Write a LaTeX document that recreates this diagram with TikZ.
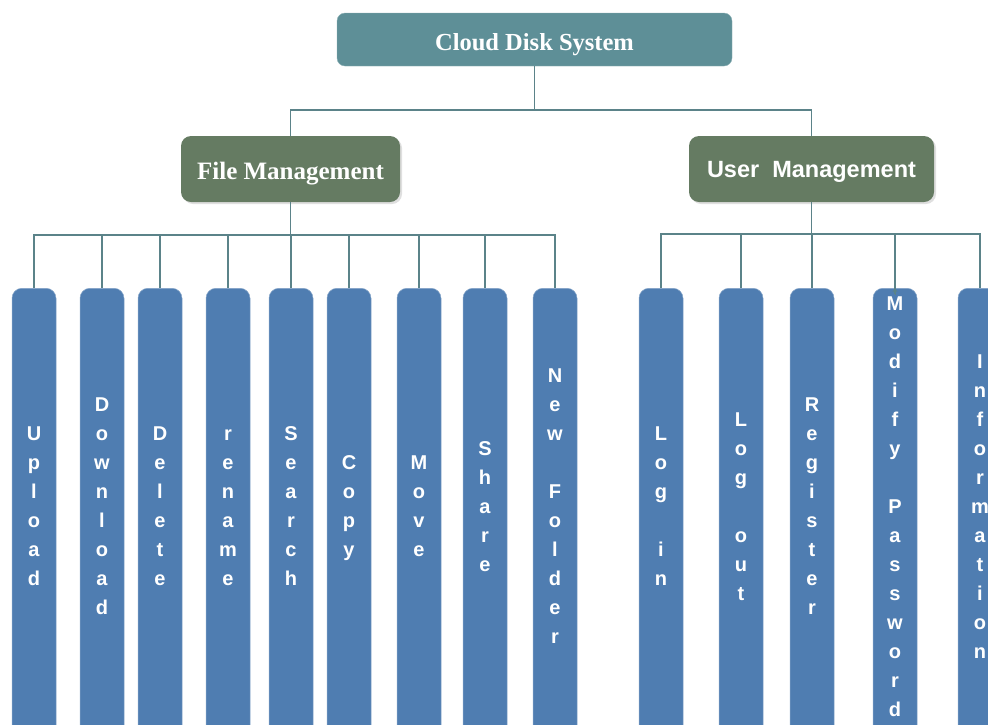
\documentclass[tikz,border=0pt]{standalone}
\usepackage{fontspec}
\setmainfont{Liberation Serif}
\setsansfont{Liberation Sans}
\usetikzlibrary{shadows,arrows.meta}
\definecolor{rootc}{HTML}{5E8F97}
\definecolor{midc}{HTML}{657B62}
\definecolor{leafc}{HTML}{4F7DB1}
\definecolor{linec}{HTML}{5B8389}
\tikzset{
  rootbox/.style={fill=rootc, draw=rootc!70!white, rounded corners=8pt, minimum width=395pt, minimum height=53pt, text=white, text height=21pt, text depth=0pt, font=\fontsize{24.5}{28}\selectfont\bfseries},
  midbox/.style={fill=midc, rounded corners=10pt, minimum height=66pt, text=white, text depth=0pt, drop shadow={shadow xshift=2pt, shadow yshift=-2pt, opacity=0.25}},
  leafbox/.style={fill=leafc, draw=leafc!70!white, line width=0.5pt, rounded corners=10pt, minimum width=44pt, minimum height=480pt, anchor=north, inner sep=0pt, text=white, font=\sffamily\bfseries\fontsize{20}{29}\selectfont},
  conn/.style={draw=linec, line width=1.4pt},
}
\newcommand{\rz}[1]{\raisebox{0pt}[\height][\dimexpr\depth+42pt\relax]{\begin{tabular}{@{}c@{}}#1\end{tabular}}}
\begin{document}
\begin{tikzpicture}[x=1pt,y=-1pt]
\useasboundingbox (0,0) rectangle (988,724);
\clip (0,0) rectangle (988,724);
\node[rootbox] (root) at (534.5,39.5) {Cloud Disk System};
\node[midbox, minimum width=219pt, text height=20pt, font=\fontsize{25}{28}\selectfont\bfseries] (fm) at (290.5,169) {File Management};
\node[midbox, minimum width=245pt, text height=16pt, font=\sffamily\bfseries\fontsize{23.5}{26}\selectfont] (um) at (811.5,169) {User\ \ Management};
\coordinate (rb) at (534.5,110);
\draw[conn] (root.south) -- (rb);
\draw[conn] (rb) -| (fm.north);
\draw[conn] (rb) -| (um.north);
% file management leaves
\node[leafbox] (up) at (34,288) {\rz{U\\p\\l\\o\\a\\d}};
\node[leafbox] (dl) at (102,288) {\rz{D\\o\\w\\n\\l\\o\\a\\d}};
\node[leafbox] (de) at (160,288) {\rz{D\\e\\l\\e\\t\\e}};
\node[leafbox] (rn) at (228,288) {\rz{r\\e\\n\\a\\m\\e}};
\node[leafbox] (se) at (291,288) {\rz{S\\e\\a\\r\\c\\h}};
\node[leafbox] (cp) at (349,288) {\rz{C\\o\\p\\y}};
\node[leafbox] (mv) at (419,288) {\rz{M\\o\\v\\e}};
\node[leafbox] (sh) at (485,288) {\rz{S\\h\\a\\r\\e}};
\node[leafbox] (nf) at (555,288) {\rz{N\\e\\w\\~\\F\\o\\l\\d\\e\\r}};
\coordinate (fb) at (290.5,235);
\draw[conn] (fm.south) -- (fb);
\foreach \n in {up,dl,de,rn,se,cp,mv,sh,nf}{\draw[conn] (fb) -| (\n.north);}
% user management leaves
\node[leafbox] (li) at (661,288) {\rz{L\\o\\g\\~\\i\\n}};
\node[leafbox] (lo) at (741,288) {\rz{L\\o\\g\\~\\o\\u\\t}};
\node[leafbox] (rg) at (812,288) {\rz{R\\e\\g\\i\\s\\t\\e\\r}};
\node[leafbox] (mp) at (895,288) {\rz{M\\o\\d\\i\\f\\y\\~\\P\\a\\s\\s\\w\\o\\r\\d}};
\node[leafbox] (in) at (980,288) {\rz{I\\n\\f\\o\\r\\m\\a\\t\\i\\o\\n}};
\coordinate (ub) at (811.5,234);
\draw[conn] (um.south) -- (ub);
\foreach \n in {li,lo,rg,in}{\draw[conn] (ub) -| (\n.north);}
\draw[conn] (ub) -| ([yshift=-6pt]mp.north);
\draw[linec, line width=1pt, -{Stealth[length=4pt,width=5pt]}] ([yshift=-7pt]mp.north) -- (mp.north);
\end{tikzpicture}
\end{document}
